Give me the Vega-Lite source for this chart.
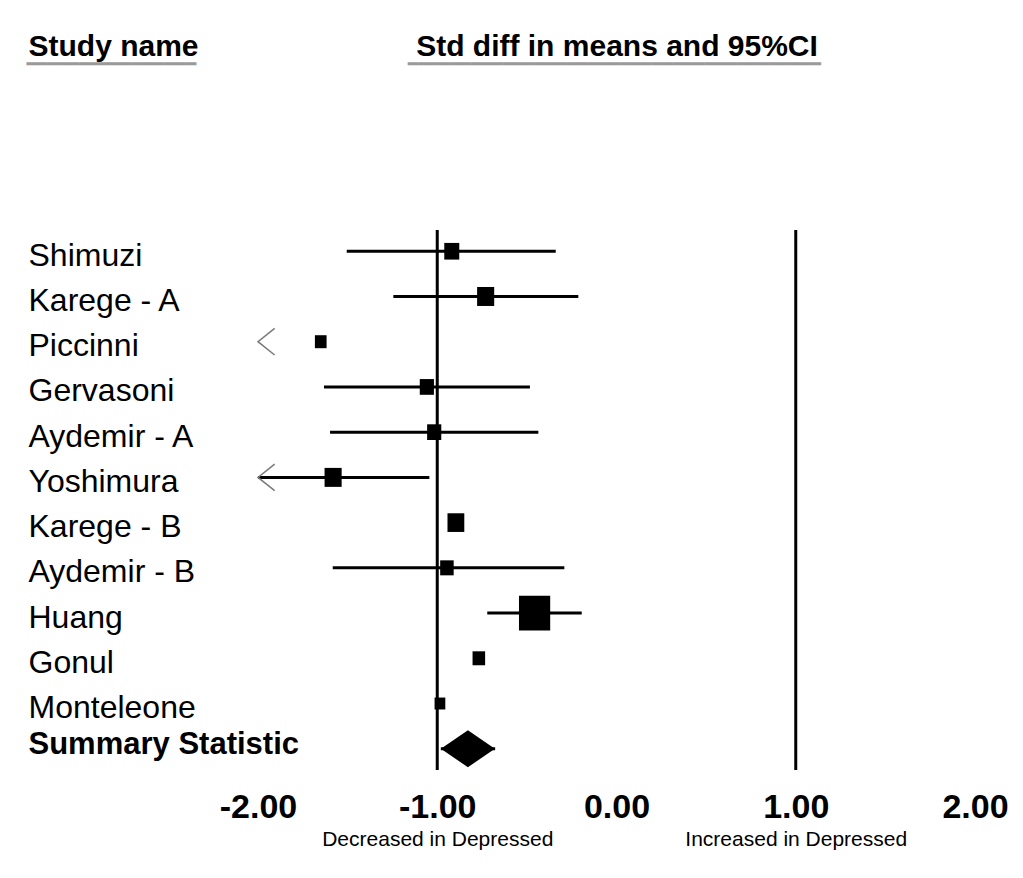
{
  "$schema": "https://vega.github.io/schema/vega-lite/v6.json",
  "autosize": {"type": "none"},
  "width": 717,
  "height": 540,
  "padding": {"left": 258, "top": 230, "right": 48, "bottom": 108},
  "background": "white",
  "config": {"view": {"stroke": null}, "axis": {"grid": false}},
  "datasets": {
    "studies": [
      {"study": "Shimuzi", "est": -0.919, "lo": -1.505, "hi": -0.339, "weight": 7.4, "trunc": null},
      {"study": "Karege - A", "est": -0.730, "lo": -1.245, "hi": -0.213, "weight": 9.6, "trunc": null},
      {"study": "Piccinni", "est": -1.650, "lo": null, "hi": null, "weight": 4.5, "trunc": "left"},
      {"study": "Gervasoni", "est": -1.058, "lo": -1.632, "hi": -0.483, "weight": 6.6, "trunc": null},
      {"study": "Aydemir - A", "est": -1.017, "lo": -1.598, "hi": -0.436, "weight": 6.6, "trunc": null},
      {"study": "Yoshimura", "est": -1.581, "lo": -2.15, "hi": -1.044, "weight": 9.6, "trunc": "left"},
      {"study": "Karege - B", "est": -0.896, "lo": null, "hi": null, "weight": 9.3, "trunc": null},
      {"study": "Aydemir - B", "est": -0.946, "lo": -1.583, "hi": -0.291, "weight": 6.0, "trunc": null},
      {"study": "Huang", "est": -0.457, "lo": -0.721, "hi": -0.194, "weight": 32.1, "trunc": null},
      {"study": "Gonul", "est": -0.768, "lo": null, "hi": null, "weight": 5.2, "trunc": null},
      {"study": "Monteleone", "est": -0.985, "lo": null, "hi": null, "weight": 3.8, "trunc": null},
      {"study": "Summary Statistic", "est": -0.829, "lo": -0.980, "hi": -0.677, "weight": null, "trunc": null}
    ],
    "refs": [{"ref": -1}, {"ref": 1}]
  },
  "resolve": {"axis": {"x": "independent"}},
  "layer": [
    {
      "data": {"name": "refs"},
      "mark": {"type": "rule", "color": "black", "strokeWidth": 3},
      "encoding": {
        "x": {
          "field": "ref", "type": "quantitative",
          "scale": {"domain": [-2, 2], "nice": false, "zero": false},
          "axis": {
            "orient": "bottom",
            "values": [-2, -1, 0, 1, 2],
            "labelExpr": "replace(format(datum.value, '.2f'), '\u2212', '-')",
            "labelFont": "Liberation Sans",
            "labelFontWeight": "bold",
            "labelFontSize": 34,
            "labelColor": "black",
            "labelPadding": 20,
            "labelFlush": false,
            "labelOverlap": false,
            "labelBaseline": "top",
            "labelLimit": 500,
            "ticks": false,
            "tickSize": 0,
            "domain": false,
            "title": "Std diff in means and 95%CI",
            "titleFont": "Liberation Sans",
            "titleFontSize": 30,
            "titleFontWeight": "bold",
            "titleColor": "black",
            "titleX": 358.5,
            "titleY": -715,
            "titleAlign": "center",
            "titleBaseline": "alphabetic",
            "titleLimit": 2000
          }
        }
      }
    },
    {
      "data": {"name": "refs"},
      "mark": {"type": "rule", "strokeOpacity": 0},
      "encoding": {
        "x": {
          "field": "ref", "type": "quantitative",
          "axis": {
            "orient": "bottom",
            "values": [-1, 1],
            "labelExpr": "datum.value < 0 ? 'Decreased in Depressed' : 'Increased in Depressed'",
            "labelFont": "Liberation Sans",
            "labelFontSize": 21,
            "labelColor": "black",
            "labelPadding": 58,
            "labelFlush": false,
            "labelOverlap": false,
            "labelBaseline": "top",
            "labelLimit": 600,
            "ticks": false,
            "tickSize": 0,
            "domain": false,
            "title": "━━━━━━━━━━━━━━━━\u00a0\u00a0\u00a0\u00a0\u00a0\u00a0\u00a0\u00a0\u00a0\u00a0\u00a0\u00a0\u00a0\u00a0\u00a0\u00a0\u00a0\u00a0\u00a0\u00a0━━━━━━━━━━━━━━━━━━━━━━━━━━━━━━━━━━━━━━━",
            "titleFont": "DejaVu Sans Mono",
            "titleFontSize": 17.6,
            "titleFontWeight": "normal",
            "titleColor": "#9a9a9a",
            "titleX": -232,
            "titleY": -700.6,
            "titleAlign": "left",
            "titleBaseline": "alphabetic",
            "titleLimit": 3000
          }
        }
      }
    },
    {
      "data": {"name": "studies"},
      "mark": {"type": "rule", "color": "black", "strokeWidth": 3, "clip": true},
      "encoding": {
        "x": {"field": "lo", "type": "quantitative", "axis": null},
        "x2": {"field": "hi"},
        "y": {
          "field": "study", "type": "nominal",
          "scale": {
            "type": "point", "padding": 0.47,
            "domain": ["Shimuzi", "Karege - A", "Piccinni", "Gervasoni", "Aydemir - A", "Yoshimura", "Karege - B", "Aydemir - B", "Huang", "Gonul", "Monteleone", "Summary Statistic"]
          },
          "axis": {
            "title": "Study name",
            "titleFont": "Liberation Sans",
            "titleFontSize": 30,
            "titleFontWeight": "bold",
            "titleColor": "black",
            "titleAngle": 0,
            "titleX": -230,
            "titleY": -175,
            "titleAlign": "left",
            "titleBaseline": "alphabetic",
            "titleLimit": 1000,
            "ticks": false,
            "tickSize": 0,
            "domain": false,
            "labelAlign": "left",
            "labelBaseline": "middle",
            "labelPadding": 230,
            "labelFont": "Liberation Sans",
            "labelFontSize": {"condition": {"test": "datum.value === 'Summary Statistic'", "value": 31}, "value": 32},
            "labelFontWeight": {"condition": {"test": "datum.value === 'Summary Statistic'", "value": "bold"}, "value": "normal"},
            "labelOffset": {"condition": {"test": "datum.value === 'Summary Statistic'", "value": -4}, "value": 4},
            "labelColor": "black",
            "labelLimit": 600
          }
        }
      }
    },
    {
      "data": {"name": "studies"},
      "transform": [{"filter": "datum.trunc === 'left'"}],
      "mark": {"type": "point", "shape": "M1.25,-1L0,0L1.25,1", "filled": false, "stroke": "#7a7a7a", "strokeWidth": 1.5, "size": 708, "opacity": 1},
      "encoding": {
        "x": {"datum": -2, "type": "quantitative", "axis": null},
        "y": {"field": "study", "type": "nominal"}
      }
    },
    {
      "data": {"name": "studies"},
      "transform": [{"filter": "datum.study !== 'Summary Statistic'"}],
      "mark": {"type": "point", "shape": "M-0.9,-1L0.9,-1L0.9,1L-0.9,1Z", "filled": true, "color": "black", "opacity": 1},
      "encoding": {
        "x": {"field": "est", "type": "quantitative", "axis": null},
        "y": {"field": "study", "type": "nominal"},
        "size": {"field": "weight", "type": "quantitative", "scale": {"domain": [0, 40], "range": [0, 1500]}, "legend": null}
      }
    },
    {
      "data": {"name": "studies"},
      "transform": [{"filter": "datum.study === 'Summary Statistic'"}],
      "mark": {"type": "point", "shape": "M-1,0L0,-0.685L1,0L0,0.685Z", "filled": true, "color": "black", "opacity": 1, "size": 2916},
      "encoding": {
        "x": {"field": "est", "type": "quantitative", "axis": null},
        "y": {"field": "study", "type": "nominal"}
      }
    }
  ]
}
